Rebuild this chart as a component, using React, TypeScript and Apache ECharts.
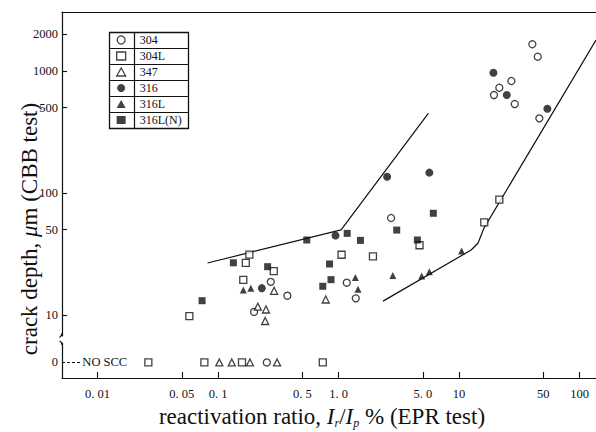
import { useEffect, useRef } from "react";
import * as echarts from "echarts";

// axis extents
const X_MIN = 0.00507;
const X_MAX = 137;
const Y_MIN = 6.73;
const Y_MAX = 3045;

const xTicks = [0.01, 0.05, 0.1, 0.5, 1, 5, 10, 50, 100];
const xTickLabels = ["0. 01", "0. 05", "0. 1", "0. 5", "1. 0", "5. 0", "10", "50", "100"];
const yTicks = [10, 50, 100, 500, 1000, 2000];
const yTickLabels = ["10", "50", "100", "500", "1000", "2000"];

const legendNames = ["304", "304L", "347", "316", "316L", "316L(N)"];

// [reactivation ratio %, crack depth um]
const s304: [number, number][] = [
  [40.6, 1656], [45.0, 1309], [27.2, 828], [21.6, 729], [19.5, 635], [29.0, 536], [46.4, 409],
  [2.73, 62.4], [0.274, 18.7], [0.376, 14.4], [0.199, 10.6], [1.17, 18.4], [1.39, 13.7],
];
const s304L: [number, number][] = [
  [0.182, 31.3], [0.17, 26.8], [0.29, 22.9], [1.06, 31.2], [1.93, 30.3], [4.7, 37.3],
  [0.162, 19.4], [0.0578, 9.8], [16.2, 57.5], [21.6, 88.1],
];
const s347: [number, number][] = [
  [0.292, 15.8], [0.214, 11.7], [0.25, 11.1], [0.246, 8.93], [0.783, 13.4],
];
const s316: [number, number][] = [
  [19.3, 968], [24.9, 635], [54.1, 491], [2.53, 136], [5.67, 147], [0.944, 44.8], [0.231, 16.6],
];
const s316L: [number, number][] = [
  [0.162, 16.0], [0.187, 16.6], [1.38, 20.3], [1.45, 16.3], [2.82, 21.1], [4.9, 20.9], [5.67, 22.6], [10.5, 33.5],
];
const s316LN: [number, number][] = [
  [0.545, 41.2], [1.18, 46.7], [1.52, 40.9], [6.12, 68.2], [3.04, 49.7], [4.51, 41.2],
  [0.842, 26.2], [0.866, 19.5], [0.74, 17.2], [0.134, 26.8], [0.258, 24.9], [0.0737, 13.1],
];

// "NO SCC" specimens (crack depth 0)
const noScc304 = [0.254];
const noScc304L = [0.0264, 0.077, 0.158, 0.74];
const noScc347 = [0.1025, 0.13, 0.184, 0.309];

// boundary lines
const upperBound: [number, number][] = [[0.0818, 26.7], [1.05, 49.8], [5.56, 450]];
const lowerBound: [number, number][] = [[2.34, 13.0], [12.6, 34.1], [14.4, 38.9], [16.1, 51.6], [137, 1795]];

const FONT = "'Liberation Serif', 'Times New Roman', serif";
const INK = "#111";

function findLabel(v: number, ticks: number[], labels: string[]) {
  const i = ticks.findIndex((t) => Math.abs(t - v) / t < 1e-6);
  return i >= 0 ? labels[i] : "";
}

export default function App() {
  const ref = useRef<HTMLDivElement>(null);
  useEffect(() => {
    if (!ref.current) return;
    const chart = echarts.init(ref.current, undefined, { renderer: "svg" });

    const openStyle = { color: "#fff", borderColor: INK, borderWidth: 1.3 };
    const fillStyle = { color: INK };
    const mk = (name: string, symbol: string, open: boolean, data: number[][], grid: number, size = 7) => ({
      type: "scatter",
      name,
      data,
      symbol,
      symbolSize: size,
      xAxisIndex: grid,
      yAxisIndex: grid,
      itemStyle: open ? openStyle : fillStyle,
      z: 5,
      silent: true,
    });

    const option: any = {
      animation: false,
      backgroundColor: "#fff",
      textStyle: { fontFamily: FONT },
      grid: [
        { left: 62, right: 0, top: 12, height: 324 },
        { left: 62, right: 0, top: 343, height: 35 },
      ],
      xAxis: [
        {
          type: "log",
          gridIndex: 0,
          min: X_MIN,
          max: X_MAX,
          position: "top",
          axisLine: { show: true, onZero: false, lineStyle: { color: INK, width: 1.2 } },
          axisTick: { show: false },
          axisLabel: { show: false },
          splitLine: { show: false },
          minorTick: { show: false },
        },
        {
          type: "log",
          gridIndex: 1,
          min: X_MIN,
          max: X_MAX,
          position: "bottom",
          axisLine: { show: true, onZero: false, lineStyle: { color: INK, width: 1.2 } },
          axisTick: { show: true, inside: true, length: 6, customValues: xTicks, lineStyle: { color: INK, width: 1.1 } },
          axisLabel: {
            show: true,
            customValues: xTicks,
            margin: 9,
            fontSize: 12.5,
            fontFamily: FONT,
            color: INK,
            formatter: (v: number) => findLabel(v, xTicks, xTickLabels),
          },
          splitLine: { show: false },
        },
      ],
      yAxis: [
        {
          type: "log",
          gridIndex: 0,
          min: Y_MIN,
          max: Y_MAX,
          axisLine: { show: true, onZero: false, lineStyle: { color: INK, width: 1.2 } },
          axisTick: { show: true, inside: true, length: 5, customValues: yTicks, lineStyle: { color: INK, width: 1.1 } },
          axisLabel: {
            show: true,
            customValues: yTicks,
            margin: 4,
            fontSize: 12.5,
            fontFamily: FONT,
            color: INK,
            formatter: (v: number) => findLabel(v, yTicks, yTickLabels),
          },
          splitLine: { show: false },
        },
        {
          type: "value",
          gridIndex: 1,
          min: -0.8,
          max: 1,
          axisLine: { show: true, onZero: false, lineStyle: { color: INK, width: 1.2 } },
          axisTick: { show: false },
          axisLabel: {
            show: true,
            customValues: [0],
            margin: 4,
            fontSize: 12.5,
            fontFamily: FONT,
            color: INK,
            formatter: (v: number) => (v === 0 ? "0" : ""),
          },
          splitLine: { show: false },
        },
      ],
      legend: {
        data: legendNames,
        orient: "vertical",
        left: 116,
        top: 34,
        padding: 0,
        itemWidth: 9,
        itemHeight: 8,
        itemGap: 4,
        selectedMode: false,
        textStyle: { fontFamily: FONT, fontSize: 12, color: INK, padding: [0, 0, 0, 9] },
        itemStyle: { borderWidth: 1.3 },
      },
      graphic: [
        {
          type: "group",
          silent: true,
          children: [
            { type: "rect", shape: { x: 109.5, y: 32.5, width: 79, height: 96 }, style: { fill: "none", stroke: INK, lineWidth: 1.3 } },
            { type: "line", shape: { x1: 134.5, y1: 32.5, x2: 134.5, y2: 128.5 }, style: { stroke: INK, lineWidth: 1.2 } },
            ...[48.5, 64.5, 80.5, 96.5, 112.5].map((y) => ({
              type: "line",
              shape: { x1: 109.5, y1: y, x2: 188.5, y2: y },
              style: { stroke: INK, lineWidth: 1.1 },
            })),
          ],
        },
        {
          type: "bezierCurve",
          silent: true,
          shape: { x1: 62, y1: 333, cpx1: 62, cpy1: 336, x2: 59.5, y2: 337.5 },
          style: { stroke: INK, lineWidth: 1.1, fill: "none" },
        },
        {
          type: "bezierCurve",
          silent: true,
          shape: { x1: 59.5, y1: 341, cpx1: 62, cpy1: 342, x2: 62, y2: 345 },
          style: { stroke: INK, lineWidth: 1.1, fill: "none" },
        },
        {
          type: "text",
          silent: true,
          x: 29,
          y: 229,
          rotation: Math.PI / 2,
          style: {
            text: "crack depth, {i|μ}m (CBB test)",
            font: `23px ${FONT}`,
            fill: INK,
            align: "center",
            verticalAlign: "middle",
            rich: { i: { fontStyle: "italic", fontSize: 23, fontFamily: FONT, fill: INK } },
          },
        },
        {
          type: "text",
          silent: true,
          x: 322,
          y: 416,
          style: {
            text: "reactivation ratio, {i|I}{sub|r}{n|/}{i|I}{sub|p} % (EPR test)",
            font: `23px ${FONT}`,
            fill: INK,
            align: "center",
            verticalAlign: "middle",
            rich: {
              i: { fontStyle: "italic", fontSize: 23, fontFamily: FONT, fill: INK },
              n: { fontSize: 23, fontFamily: FONT, fill: INK },
              sub: { fontStyle: "italic", fontSize: 12, fontFamily: FONT, fill: INK, padding: [14, 0, 0, 0] },
            },
          },
        },
      ],
      series: [
        mk("304", "circle", true, s304, 0),
        mk("304L", "rect", true, s304L, 0),
        mk("347", "triangle", true, s347, 0),
        mk("316", "circle", false, s316, 0, 8),
        mk("316L", "triangle", false, s316L, 0),
        mk("316L(N)", "rect", false, s316LN, 0),
        mk("304", "circle", true, noScc304.map((x) => [x, 0]), 1),
        {
          ...mk("304L", "rect", true, noScc304L.map((x) => [x, 0]), 1),
          markLine: {
            silent: true,
            symbol: "none",
            lineStyle: { type: [3, 2], color: INK, width: 1 },
            label: {
              show: true,
              position: "end",
              distance: 2,
              formatter: "{a|NO SCC}",
              rich: { a: { fontFamily: FONT, fontSize: 12.5, color: INK } },
            },
            data: [[{ coord: [X_MIN, 0] }, { coord: [0.0072, 0] }]],
          },
        },
        mk("347", "triangle", true, noScc347.map((x) => [x, 0]), 1),
        {
          type: "line",
          name: "upper",
          data: upperBound,
          xAxisIndex: 0,
          yAxisIndex: 0,
          symbol: "none",
          silent: true,
          lineStyle: { color: INK, width: 1.2 },
          z: 3,
        },
        {
          type: "line",
          name: "lower",
          data: lowerBound,
          xAxisIndex: 0,
          yAxisIndex: 0,
          symbol: "none",
          silent: true,
          lineStyle: { color: INK, width: 1.2 },
          z: 3,
        },
      ],
    };
    chart.setOption(option);
    return () => chart.dispose();
  }, []);

  return (
    <div
      ref={ref}
      style={{ position: "fixed", left: 0, top: 0, width: 596, height: 432, background: "#fff" }}
    />
  );
}
